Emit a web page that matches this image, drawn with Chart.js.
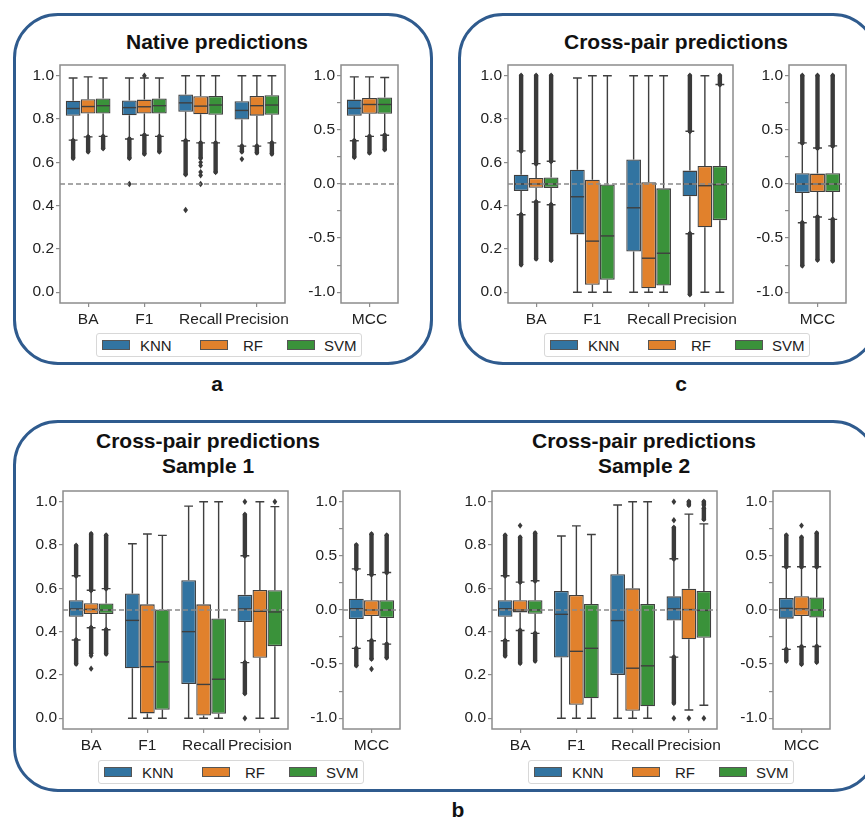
<!DOCTYPE html>
<html><head><meta charset="utf-8">
<script src="https://cdn.jsdelivr.net/npm/chart.js@4.4.1/dist/chart.umd.min.js"></script>
<style>
body{margin:0;background:#fff;font-family:"Liberation Sans",Arial,Helvetica,sans-serif;}
#fig{position:relative;width:865px;height:821px;overflow:hidden;background:#fff;}
.frame{position:absolute;border:3px solid #2f5b8e;border-radius:45px;box-sizing:border-box;}
.title{position:absolute;font-weight:bold;font-size:21px;color:#111;text-align:center;transform:translate(-50%,-50%);white-space:nowrap;line-height:25px;}
.lab{position:absolute;font-weight:bold;font-size:21px;color:#111;transform:translate(-50%,-50%);}
.legend{position:absolute;border:1px solid #d8d8d8;border-radius:3px;background:#fff;box-sizing:border-box;width:266px;height:24px;}
.patch{position:absolute;top:6px;width:28px;height:10px;box-sizing:border-box;border:1px solid #555;}
.ltxt{position:absolute;top:0;line-height:23px;font-size:15px;color:#222;}
canvas{position:absolute;}
</style>
</head><body><div id="fig"></div>
<script>
// ---------- data ----------
const metrics = ['BA', 'F1', 'Recall', 'Precision'];
const mccLabels = ['MCC'];
const models = ['KNN', 'RF', 'SVM'];
const mainTicks = [0, 0.2, 0.4, 0.6, 0.8, 1.0];
const mccTicks = [-1, -0.75, -0.5, -0.25, 0, 0.25, 0.5, 0.75, 1];

// five-number summaries [whiskerLow, Q1, median, Q3, whiskerHigh] for BA, F1, Recall, Precision, MCC
const nativeKNN = [[0.703,0.815,0.849,0.885,0.99],[0.708,0.818,0.853,0.886,0.99],[0.70,0.834,0.875,0.914,1.0],[0.675,0.798,0.84,0.883,1.0],[0.40,0.63,0.70,0.78,0.99]];
const nativeRF  = [[0.718,0.826,0.858,0.892,0.995],[0.725,0.826,0.857,0.89,0.99],[0.69,0.822,0.86,0.906,1.0],[0.675,0.816,0.862,0.907,1.0],[0.44,0.65,0.735,0.795,0.99]];
const nativeSVM = [[0.72,0.826,0.862,0.895,0.99],[0.72,0.826,0.862,0.895,0.99],[0.69,0.82,0.865,0.907,1.0],[0.69,0.82,0.865,0.91,1.0],[0.45,0.65,0.735,0.80,0.985]];
// outliers as [low, high] runs (low == high: single point)
const nativeKNNOut = [[[0.62,0.70]],[[0.62,0.708],[0.50,0.50]],[[0.545,0.70],[0.38,0.38]],[[0.65,0.675],[0.615,0.615]],[[0.25,0.40]]];
const nativeRFOut  = [[[0.65,0.718]],[[0.64,0.725],[1.0,1.0]],[[0.62,0.69],[0.60,0.60],[0.585,0.585],[0.555,0.555],[0.54,0.54],[0.50,0.50]],[[0.645,0.675]],[[0.29,0.44]]];
const nativeSVMOut = [[[0.665,0.72]],[[0.65,0.72]],[[0.555,0.69]],[[0.64,0.69]],[[0.32,0.45]]];

const crossKNN = [[0.358,0.468,0.50,0.543,0.653],[0,0.267,0.441,0.566,0.99],[0,0.188,0.39,0.613,1.0],[0.27,0.443,0.50,0.562,0.744],[-0.358,-0.083,0.0,0.10,0.38]];
const crossRF  = [[0.417,0.483,0.50,0.528,0.594],[0,0.034,0.236,0.52,1.0],[0,0.018,0.157,0.508,1.0],[0,0.30,0.492,0.583,1.0],[-0.305,-0.074,0.0,0.096,0.333]];
const crossSVM = [[0.404,0.482,0.50,0.53,0.605],[0,0.057,0.26,0.498,1.0],[0,0.031,0.18,0.48,1.0],[0,0.333,0.497,0.583,0.96],[-0.327,-0.075,0.0,0.10,0.352]];
const crossKNNOut = [[[0.653,1.0],[0.128,0.358]],[],[],[[0.744,1.0],[-0.01,0.27]],[[0.38,1.0],[-0.753,-0.358]]];
const crossRFOut  = [[[0.594,1.0],[0.155,0.417]],[],[],[],[[0.333,1.0],[-0.70,-0.305]]];
const crossSVMOut = [[[0.605,1.0],[0.148,0.404]],[],[],[[0.96,1.0]],[[0.352,1.0],[-0.71,-0.327]]];

const s1KNN = [[0.361,0.469,0.505,0.545,0.658],[0,0.231,0.452,0.576,0.806],[0,0.158,0.40,0.638,0.98],[0.257,0.444,0.505,0.57,0.751],[-0.355,-0.083,0.012,0.105,0.38]];
const s1RF  = [[0.418,0.481,0.503,0.531,0.591],[0,0.022,0.238,0.526,0.851],[0,0.012,0.156,0.526,1.0],[0,0.279,0.494,0.593,1.0],[-0.284,-0.056,0.0,0.09,0.327]];
const s1SVM = [[0.409,0.482,0.50,0.53,0.599],[0,0.039,0.26,0.502,0.845],[0,0.02,0.18,0.461,1.0],[0,0.333,0.491,0.591,0.978],[-0.315,-0.074,0.0,0.09,0.346]];
const s1KNNOut = [[[0.658,0.797],[0.251,0.361]],[],[],[[0.751,0.94],[1.0,1.0],[0.115,0.257],[0.0,0.0]],[[0.38,0.60],[-0.512,-0.355]]];
const s1RFOut  = [[[0.591,0.851],[0.30,0.418],[0.289,0.289],[0.229,0.229]],[],[],[],[[0.327,0.70],[-0.45,-0.284],[-0.545,-0.545]]];
const s1SVMOut = [[[0.599,0.845],[0.298,0.409]],[],[],[[1.0,1.0]],[[0.346,0.69],[-0.44,-0.315]]];

const s2KNN = [[0.358,0.469,0.506,0.545,0.658],[0,0.28,0.48,0.588,0.842],[0,0.20,0.451,0.665,0.985],[0.282,0.451,0.505,0.563,0.737],[-0.364,-0.08,0.015,0.11,0.40]];
const s2RF  = [[0.405,0.489,0.50,0.545,0.629],[0,0.062,0.309,0.569,0.889],[0,0.034,0.231,0.60,1.0],[0.038,0.365,0.502,0.598,0.943],[-0.34,-0.056,0.01,0.127,0.40]];
const s2SVM = [[0.392,0.483,0.50,0.545,0.635],[0,0.092,0.323,0.528,0.849],[0,0.055,0.242,0.528,1.0],[0.06,0.372,0.498,0.588,0.898],[-0.337,-0.07,0.0,0.115,0.40]];
const s2KNNOut = [[[0.658,0.845],[0.288,0.358]],[],[],[[0.737,0.88],[0.915,0.915],[1.0,1.0],[0.07,0.282],[0.0,0.0]],[[0.40,0.69],[-0.47,-0.364]]];
const s2RFOut  = [[[0.629,0.835],[0.89,0.89],[0.255,0.405]],[],[],[[0.985,1.0],[0.0,0.0]],[[0.40,0.67],[0.78,0.78],[-0.50,-0.34]]];
const s2SVMOut = [[[0.635,0.855],[0.265,0.392]],[],[],[[0.92,0.97],[0.985,1.0],[0.0,0.0]],[[0.40,0.71],[-0.48,-0.337]]];

// ---------- style ----------
const modelColors = ['#3274a1', '#e1812c', '#3a923a'];
const FONT = '"Liberation Sans", Arial, Helvetica, sans-serif';
const AX = '#8c8c8c';
const EDGE = '#3f3f3f';
const fig = document.getElementById('fig');

const boxPlugin = {
  id: 'boxExtras',
  afterDatasetsDraw(chart, args, opts) {
    const ctx = chart.ctx, ys = chart.scales.y, a = chart.chartArea;
    const py = v => ys.getPixelForValue(v);
    ctx.save();
    chart.data.datasets.forEach((ds, i) => {
      const meta = chart.getDatasetMeta(i);
      meta.data.forEach((el, j) => {
        const s = ds.stats[j]; const x = el.x, w = el.width;
        ctx.strokeStyle = EDGE; ctx.lineWidth = 1.4; ctx.lineCap = 'butt';
        ctx.beginPath();
        ctx.moveTo(x, py(s[3])); ctx.lineTo(x, py(s[4]));
        ctx.moveTo(x, py(s[1])); ctx.lineTo(x, py(s[0]));
        ctx.moveTo(x - w * 0.3, py(s[4])); ctx.lineTo(x + w * 0.3, py(s[4]));
        ctx.moveTo(x - w * 0.3, py(s[0])); ctx.lineTo(x + w * 0.3, py(s[0]));
        ctx.stroke();
        ctx.beginPath();
        ctx.moveTo(x - w / 2 + 0.6, py(s[2])); ctx.lineTo(x + w / 2 - 0.6, py(s[2]));
        ctx.stroke();
        ctx.fillStyle = '#3a3a3a'; ctx.strokeStyle = '#3a3a3a';
        (ds.outs[j] || []).forEach(([lo, hi]) => {
          const diamond = yy => { ctx.beginPath(); ctx.moveTo(x, yy - 3.2); ctx.lineTo(x + 2.4, yy); ctx.lineTo(x, yy + 3.2); ctx.lineTo(x - 2.4, yy); ctx.closePath(); ctx.fill(); };
          if (lo === hi) { diamond(py(lo)); }
          else {
            ctx.lineWidth = 4.4; ctx.lineCap = 'round';
            ctx.beginPath(); ctx.moveTo(x, py(lo)); ctx.lineTo(x, py(hi)); ctx.stroke();
            diamond(py(lo)); diamond(py(hi));
          }
        });
      });
    });
    // reference line
    ctx.strokeStyle = '#8a8a8a'; ctx.lineWidth = 1.3; ctx.setLineDash([5, 3]); ctx.lineCap = 'butt';
    ctx.beginPath(); ctx.moveTo(a.left, py(opts.ref)); ctx.lineTo(a.right, py(opts.ref)); ctx.stroke();
    ctx.setLineDash([]);
    // frame
    ctx.strokeStyle = AX; ctx.lineWidth = 1.5;
    ctx.strokeRect(a.left, a.top, a.right - a.left, a.bottom - a.top);
    ctx.restore();
  }
};

function makePanel(frame, labels, stats, outs, yMin, yMax, ticks, ref) {
  const yW = 45, xH = 30, padT = 16, padR = 14;
  const cv = document.createElement('canvas');
  const w = yW + frame.w + padR, h = padT + frame.h + xH;
  cv.width = w; cv.height = h;
  cv.style.left = (frame.x - yW) + 'px'; cv.style.top = (frame.y - padT) + 'px';
  cv.style.width = w + 'px'; cv.style.height = h + 'px';
  fig.appendChild(cv);
  new Chart(cv, {
    type: 'bar',
    data: {
      labels,
      datasets: models.map((m, i) => ({
        label: m, data: stats[i].map(s => [s[1], s[3]]), stats: stats[i], outs: outs[i],
        backgroundColor: modelColors[i], borderColor: EDGE, borderWidth: 1.3, borderSkipped: false,
        categoryPercentage: 0.8, barPercentage: 0.98
      }))
    },
    options: {
      responsive: false, animation: false, devicePixelRatio: 1,
      layout: { padding: { top: padT, right: padR, left: 0, bottom: 0 } },
      plugins: { legend: { display: false }, tooltip: { enabled: false }, boxExtras: { ref } },
      scales: {
        x: {
          grid: { display: true, drawOnChartArea: false, drawTicks: true, tickLength: 4, color: AX, offset: false, lineWidth: 1.2 },
          border: { display: false },
          ticks: { font: { size: 15.5, family: FONT }, color: '#222', padding: 3, autoSkip: false, maxRotation: 0, minRotation: 0 },
          afterFit: s => { s.height = xH; }
        },
        y: {
          min: yMin, max: yMax,
          afterBuildTicks: s => { s.ticks = ticks.map(v => ({ value: v })); },
          afterFit: s => { s.width = yW; },
          grid: { display: true, drawOnChartArea: false, drawTicks: true, tickLength: 4, color: AX, lineWidth: 1.2 },
          border: { display: false },
          ticks: { font: { size: 15.5, family: FONT }, color: '#222', padding: 2, autoSkip: false,
            callback: v => (ticks === mainTicks || Math.abs(v * 2 - Math.round(v * 2)) < 1e-9) ? Number(v).toFixed(1) : '' }
        }
      }
    },
    plugins: [boxPlugin]
  });
}

function addDiv(cls, x, y, html, extra) {
  const d = document.createElement('div'); d.className = cls;
  d.style.left = x + 'px'; d.style.top = y + 'px'; d.innerHTML = html;
  if (extra) Object.assign(d.style, extra);
  fig.appendChild(d); return d;
}
function makeLegend(x, y) {
  const d = addDiv('legend', x, y, '');
  const px = [5, 103, 190], tx = [43, 146, 227];
  models.forEach((m, i) => {
    const p = document.createElement('div'); p.className = 'patch';
    p.style.left = px[i] + 'px'; p.style.background = modelColors[i]; d.appendChild(p);
    const t = document.createElement('div'); t.className = 'ltxt';
    t.style.left = tx[i] + 'px'; t.textContent = m; d.appendChild(t);
  });
}

// rounded frames
addDiv('frame', 13, 13, '', { width: '420px', height: '352px' });
addDiv('frame', 458, 13, '', { width: '420px', height: '352px' });
addDiv('frame', 13, 420, '', { width: '865px', height: '372px' });

// titles and panel letters
addDiv('title', 217, 41, 'Native predictions');
addDiv('title', 676, 41, 'Cross-pair predictions');
addDiv('title', 208, 453, 'Cross-pair predictions<br>Sample 1');
addDiv('title', 644, 453, 'Cross-pair predictions<br>Sample 2');
addDiv('lab', 217, 384, 'a');
addDiv('lab', 681, 384, 'c');
addDiv('lab', 458, 810, 'b');

// first four rows = metric panel, fifth row = MCC panel
const main = a => a.slice(0, 4);
const mcc = a => a.slice(4);
function group(k, r, s, ko, ro, so, mainX, mccX, top) {
  const st = [k, r, s], ou = [ko, ro, so];
  makePanel({ x: mainX, y: top, w: 225, h: 238 }, metrics, st.map(main), ou.map(main), -0.05, 1.05, mainTicks, 0.5);
  makePanel({ x: mccX, y: top, w: 57, h: 238 }, mccLabels, st.map(mcc), ou.map(mcc), -1.1, 1.1, mccTicks, 0);
}
group(nativeKNN, nativeRF, nativeSVM, nativeKNNOut, nativeRFOut, nativeSVMOut, 60, 341, 65);
group(crossKNN, crossRF, crossSVM, crossKNNOut, crossRFOut, crossSVMOut, 508, 789, 65);
group(s1KNN, s1RF, s1SVM, s1KNNOut, s1RFOut, s1SVMOut, 63, 343, 491);
group(s2KNN, s2RF, s2SVM, s2KNNOut, s2RFOut, s2SVMOut, 492, 773, 491);

makeLegend(96, 333);
makeLegend(544, 333);
makeLegend(98, 760);
makeLegend(528, 760);
</script>
</body></html>
